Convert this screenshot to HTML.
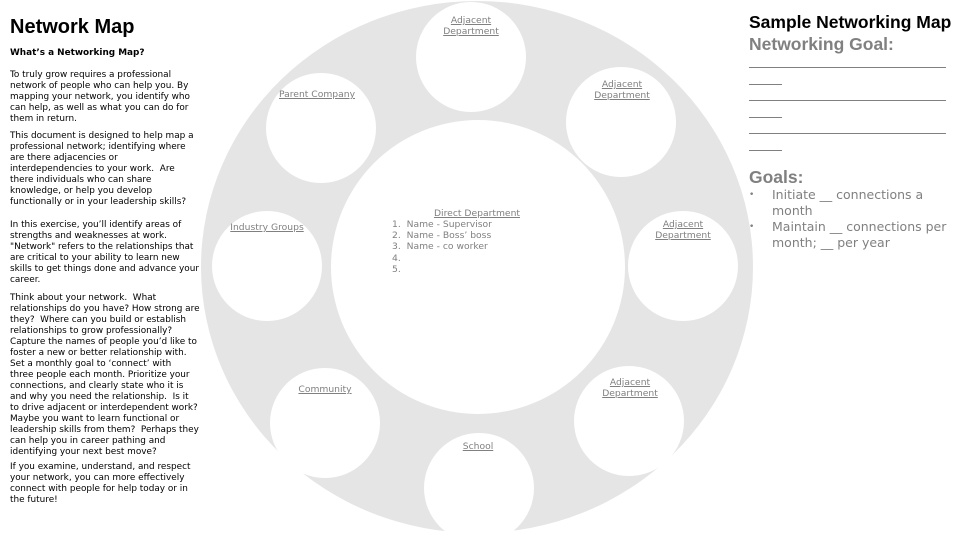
<!DOCTYPE html>
<html><head><meta charset="utf-8"><style>
body{margin:0;width:960px;height:540px;background:#fff;position:relative;overflow:hidden;font-family:"DejaVu Sans","Liberation Sans",sans-serif}
.a{position:absolute}
.lt{left:10px;font-size:8.9px;line-height:11px;color:#000;white-space:nowrap}
.lb{position:absolute;font-size:9.2px;line-height:11px;color:#808080;text-decoration:underline;text-align:center;white-space:nowrap;transform:translateX(-50%)}
.r{color:#808080}
</style></head><body>
<svg class="a" style="left:0;top:0" width="960" height="540">
<ellipse cx="477" cy="267" rx="276" ry="266" fill="#e6e5e6"/>
<circle cx="478" cy="267" r="147" fill="#fff"/>
<circle cx="471" cy="57" r="55" fill="#fff"/>
<circle cx="621" cy="122" r="55" fill="#fff"/>
<circle cx="683" cy="266" r="55" fill="#fff"/>
<circle cx="629" cy="421" r="55" fill="#fff"/>
<circle cx="479" cy="488" r="55" fill="#fff"/>
<circle cx="325" cy="423" r="55" fill="#fff"/>
<circle cx="267" cy="266" r="55" fill="#fff"/>
<circle cx="321" cy="128" r="55" fill="#fff"/>
</svg>
<div class="a" style="left:10px;top:16px;font-family:'Liberation Sans',sans-serif;font-size:20px;font-weight:bold;color:#000">Network Map</div>
<div class="a lt" style="top:48px;font-weight:bold">What’s a Networking Map?</div>
<div class="a lt" style="top:70px">To truly grow requires a professional<br>network of people who can help you. By<br>mapping your network, you identify who<br>can help, as well as what you can do for<br>them in return.</div>
<div class="a lt" style="top:131px">This document is designed to help map a<br>professional network; identifying where<br>are there adjacencies or<br>interdependencies to your work.&nbsp; Are<br>there individuals who can share<br>knowledge, or help you develop<br>functionally or in your leadership skills?</div>
<div class="a lt" style="top:220px">In this exercise, you’ll identify areas of<br>strengths and weaknesses at work.<br>"Network" refers to the relationships that<br>are critical to your ability to learn new<br>skills to get things done and advance your<br>career.</div>
<div class="a lt" style="top:293px">Think about your network.&nbsp; What<br>relationships do you have? How strong are<br>they?&nbsp; Where can you build or establish<br>relationships to grow professionally?<br>Capture the names of people you’d like to<br>foster a new or better relationship with.<br>Set a monthly goal to ‘connect’ with<br>three people each month. Prioritize your<br>connections, and clearly state who it is<br>and why you need the relationship.&nbsp; Is it<br>to drive adjacent or interdependent work?<br>Maybe you want to learn functional or<br>leadership skills from them?&nbsp; Perhaps they<br>can help you in career pathing and<br>identifying your next best move?</div>
<div class="a lt" style="top:462px">If you examine, understand, and respect<br>your network, you can more effectively<br>connect with people for help today or in<br>the future!</div>
<div class="lb" style="left:471px;top:15px">Adjacent<br>Department</div>
<div class="lb" style="left:622px;top:79px">Adjacent<br>Department</div>
<div class="lb" style="left:683px;top:219px">Adjacent<br>Department</div>
<div class="lb" style="left:630px;top:377px">Adjacent<br>Department</div>
<div class="lb" style="left:478px;top:441px">School</div>
<div class="lb" style="left:325px;top:384px">Community</div>
<div class="lb" style="left:267px;top:222px">Industry Groups</div>
<div class="lb" style="left:317px;top:89px">Parent Company</div>
<div class="lb" style="left:477px;top:208px">Direct Department</div>
<div class="a r" style="left:392px;top:219px;font-size:9.2px;line-height:11.2px;white-space:pre">1.  Name - Supervisor
2.  Name - Boss’ boss
3.  Name - co worker
4.
5.</div>
<div class="a" style="left:749px;top:12px;font-family:'Liberation Sans',sans-serif;font-size:17.5px;font-weight:bold;color:#000;white-space:nowrap">Sample Networking Map</div>
<div class="a r" style="left:749px;top:34px;font-family:'Liberation Sans',sans-serif;font-size:17.5px;font-weight:bold;white-space:nowrap">Networking Goal:</div>
<div class="a" style="left:749px;top:67px;width:197px;height:1px;background:#808080"></div>
<div class="a" style="left:749px;top:84px;width:33px;height:1px;background:#808080"></div>
<div class="a" style="left:749px;top:100px;width:197px;height:1px;background:#808080"></div>
<div class="a" style="left:749px;top:117px;width:33px;height:1px;background:#808080"></div>
<div class="a" style="left:749px;top:133px;width:197px;height:1px;background:#808080"></div>
<div class="a" style="left:749px;top:150px;width:33px;height:1px;background:#808080"></div>
<div class="a r" style="left:749px;top:167px;font-family:'Liberation Sans',sans-serif;font-size:17.5px;font-weight:bold">Goals:</div>
<div class="a r" style="left:749px;top:187px;font-size:12.5px;line-height:16px;width:210px">
<div style="display:flex"><span style="width:23px;font-size:9px">•</span><span style="width:180px">Initiate __ connections a month</span></div>
<div style="display:flex"><span style="width:23px;font-size:9px">•</span><span style="width:186px">Maintain __ connections per month; __ per year</span></div>
</div>
</body></html>
